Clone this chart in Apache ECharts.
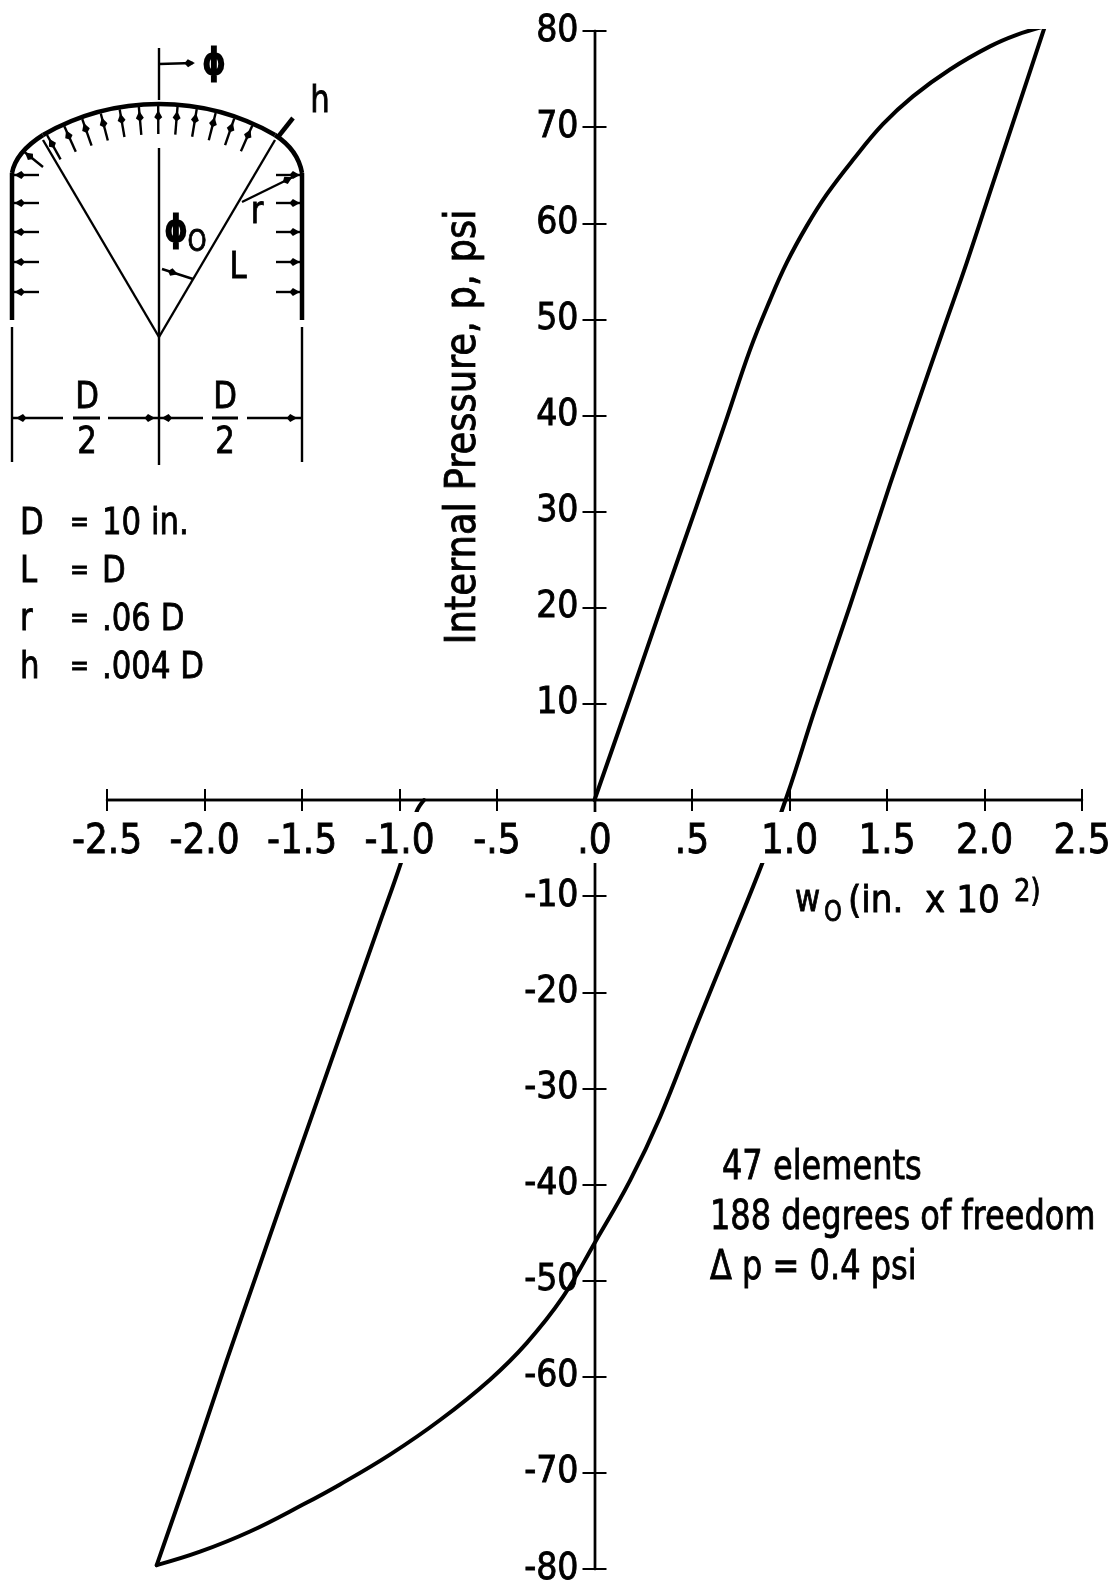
<!DOCTYPE html>
<html lang="en">
<head>
    <meta charset="UTF-8">
    <title>Internal Pressure vs. w0</title>
    <script src="https://cdn.jsdelivr.net/npm/echarts@6/dist/echarts.min.js"></script>
    <style>
        html, body { margin: 0; padding: 0; background: #ffffff; }
        #main { width: 1120px; height: 1591px; }
    </style>
</head>
<body>
<div id="main"></div>
<script type="text/javascript">
    // [w0, p]
    var risingBranch = [
        [0, 0], [0.182, 10.6], [0.336, 19.7], [0.524, 30.6], [0.680, 39.8], [0.797, 46.8],
        [0.900, 52.0], [0.986, 55.9], [1.088, 59.7], [1.191, 63.0], [1.326, 66.6], [1.479, 70.3],
        [1.633, 73.2], [1.823, 76.0], [2.028, 78.4], [2.165, 79.6], [2.310, 80.5]
    ];
    var fallingBranch = [
        [2.310, 80.5], [2.191, 73.2], [2.044, 64.2], [1.909, 55.9], [1.790, 49.0], [1.633, 39.8],
        [1.515, 32.8], [1.310, 20.2], [1.130, 9.4], [0.990, 0.6], [0.860, -6.6], [0.695, -14.9],
        [0.524, -23.4], [0.336, -33.0], [0.182, -39.6], [0.003, -46.0], [-0.162, -51.7],
        [-0.348, -56.5], [-0.536, -60.3], [-0.792, -64.5], [-1.049, -68.1], [-1.305, -71.2],
        [-1.495, -73.3], [-1.767, -76.1], [-2.023, -78.2], [-2.245, -79.6]
    ];
    var returnBranch = [
        [-2.245, -79.6], [-2.033, -67.2], [-1.886, -58.3], [-1.732, -49.3], [-1.597, -41.4],
        [-1.110, -13.3], [-0.987, -6.2], [-0.912, -1.2], [-0.874, 0]
    ];
    var xTickLabels = {'-2.5': '-2.5', '-2': '-2.0', '-1.5': '-1.5', '-1': '-1.0', '-0.5': '-.5',
        '0': '.0', '0.5': '.5', '1': '1.0', '1.5': '1.5', '2': '2.0', '2.5': '2.5'};
    var paramNames = ['D', 'L', 'r', 'h'];
    var paramValues = ['10 in.', 'D', '.06 D', '.004 D'];
    var noteLines = ['47 elements', '188 degrees of freedom', '\u0394 p = 0.4 psi'];

    var FONT = "'DejaVu Sans Condensed','Liberation Sans','Noto Sans',sans-serif";
    var INK = '#000000';
    var BOLDEN = 0.8;   // scanned type is heavier than the font

    // drawing helpers for the texts and the shell sketch
    function txt(str, x, y, size, align, rotation, squeeze, heavy) {
        return {
            type: 'text', x: x, y: y, rotation: rotation || 0, scaleX: squeeze || 0.9, z: 20,
            style: {text: str, fontSize: size, fontFamily: FONT, fill: INK, stroke: INK, lineWidth: heavy || BOLDEN,
                textAlign: align || 'left', textVerticalAlign: 'middle'}
        };
    }
    function seg(x1, y1, x2, y2, w) {
        return {type: 'line', z: 20, shape: {x1: x1, y1: y1, x2: x2, y2: y2}, style: {stroke: INK, lineWidth: w || 2.4}};
    }
    function head(x, y, ang, len, wid) {
        var c = Math.cos(ang), s = Math.sin(ang);
        return {type: 'polygon', z: 20, shape: {points: [
            [x + c * len, y + s * len],
            [x - s * wid, y + c * wid],
            [x - c * len * 0.5, y - s * len * 0.5],
            [x + s * wid, y - c * wid]
        ]}, style: {fill: INK}};
    }
    function arrow(x1, y1, x2, y2, t, w) {
        var ang = Math.atan2(y2 - y1, x2 - x1);
        return [seg(x1, y1, x2, y2, w || 2.4), head(x1 + (x2 - x1) * t, y1 + (y2 - y1) * t, ang, 7, 4)];
    }
    function knuckle(x1, y1, qx, qy, x2, y2) {
        return {type: 'bezierCurve', z: 20, shape: {x1: x1, y1: y1, cpx1: qx, cpy1: qy, x2: x2, y2: y2},
            style: {fill: null, stroke: INK, lineWidth: 4.5}};
    }

    var sketch = [];
    var cx = 159, cy = 337, R = 233;
    // shell wall
    var domeEdge = Math.asin(116 / R);
    sketch.push(seg(12, 173, 12, 320, 4.5), seg(302, 173, 302, 320, 4.5));
    sketch.push(knuckle(12, 173, 16, 152, 43, 135), knuckle(275, 135, 298, 150, 302, 173));
    sketch.push({
        type: 'arc', z: 20,
        shape: {cx: cx, cy: cy, r: R, startAngle: -Math.PI / 2 - domeEdge, endAngle: -Math.PI / 2 + domeEdge, clockwise: true},
        style: {fill: null, stroke: INK, lineWidth: 4.5}
    });
    // cone lines and centre line
    sketch.push(seg(cx, cy, 43, 140, 2.4), seg(cx, cy, 275, 140, 2.4));
    sketch.push(seg(cx, 48, cx, 100, 2.4), seg(cx, 148, cx, 465, 2.4));
    // phi marker
    sketch = sketch.concat(arrow(cx, 64, 193, 63, 0.85));
    sketch.push(txt('\u03d5', 214, 65, 36, 'center', 0, 1, 3));
    // pressure arrows on the crown
    for (var deg = -29; deg <= 24; deg += 4.8) {
        var a = deg * Math.PI / 180;
        sketch = sketch.concat(arrow(cx + Math.sin(a) * (R - 30), cy - Math.cos(a) * (R - 30), cx + Math.sin(a) * (R - 2), cy - Math.cos(a) * (R - 2), 0.6));
    }
    sketch = sketch.concat(arrow(43, 167, 22, 150, 0.6));
    // pressure arrows on the cylinder
    [175, 203, 232, 262, 292].forEach(function (y) {
        sketch = sketch.concat(arrow(39, y, 12, y, 0.65));
        sketch = sketch.concat(arrow(276, y, 302, y, 0.65));
    });
    // h, r, L, phi0
    sketch.push(seg(293, 118, 278, 137, 4.5), txt('h', 320, 102, 38, 'center'));
    sketch = sketch.concat(arrow(242, 202, 297, 175, 0.8));
    sketch.push(txt('r', 257, 213, 38, 'center'), txt('L', 238, 268, 38, 'center'));
    sketch.push(txt('\u03d5', 176, 232, 36, 'center', 0, 1, 3), txt('O', 197, 243, 30, 'center'));
    sketch = sketch.concat(arrow(162, 269, 193, 279, 0.3));
    // dimension lines
    sketch.push(seg(12, 327, 12, 462), seg(302, 327, 302, 462));
    sketch = sketch.concat(arrow(63, 418, 13, 418, 0.8), arrow(108, 418, 158, 418, 0.8));
    sketch = sketch.concat(arrow(203, 418, 160, 418, 0.8), arrow(247, 418, 301, 418, 0.8));
    sketch.push(seg(73, 418, 100, 418, 3), seg(212, 418, 238, 418, 3));
    sketch.push(txt('D', 87, 398, 38, 'center'), txt('2', 87, 443, 38, 'center'));
    sketch.push(txt('D', 225, 398, 38, 'center'), txt('2', 225, 443, 38, 'center'));

    var texts = [];
    paramNames.forEach(function (name, i) {
        var y = 524 + i * 48;
        texts.push(txt(name, 20, y, 38), txt('=', 70, y, 28), txt(paramValues[i], 102, y, 38));
    });
    texts.push(txt(noteLines[0], 722, 1169, 40, 'left', 0, 0.89), txt(noteLines[1], 710, 1219, 40, 'left', 0, 0.89), txt(noteLines[2], 710, 1269, 40, 'left', 0, 0.89));
    texts.push(txt('Internal Pressure, p, psi', 464, 427, 43, 'center', Math.PI / 2, 0.955));
    texts.push(txt('w', 795, 901, 38), txt('O', 824, 914, 28), txt('(in.  x 10', 848, 902, 38, 'left', 0, 1), txt('2)', 1014, 893, 32));

    function lineSeries(data) {
        return {
            type: 'line', data: data, xAxisIndex: 0, yAxisIndex: 0, z: 2,
            smooth: 0.4, showSymbol: false, animation: false, silent: true,
            lineStyle: {color: INK, width: 4, cap: 'round', join: 'round'}
        };
    }
    // the labels stay on the grid edge, so the margins carry them back to the zero lines
    function xAxisOpt(inside, showLabel) {
        return {
            type: 'value', min: -2.5, max: 2.5, interval: 0.5, position: 'bottom', z: 10,
            splitLine: {show: false},
            axisLine: {show: true, onZero: true, lineStyle: {color: INK, width: 2.4}},
            axisTick: {show: true, inside: inside, length: 11, lineStyle: {color: INK, width: 2}},
            axisLabel: {
                show: showLabel, margin: 12 - 769, color: INK, fontFamily: FONT, fontSize: 40, lineHeight: 40,
                textBorderColor: INK, textBorderWidth: BOLDEN,
                backgroundColor: '#ffffff', padding: [11, 3, 0, 3], hideOverlap: false, showMinLabel: true, showMaxLabel: true,
                formatter: function (v) { return xTickLabels[String(v)]; }
            }
        };
    }
    function yAxisOpt(inside, showLabel) {
        return {
            type: 'value', min: -80, max: 80, interval: 10, position: 'left', z: 1,
            splitLine: {show: false},
            axisLine: {show: true, onZero: true, lineStyle: {color: INK, width: 2.4}},
            axisTick: {show: true, inside: inside, length: 12, lineStyle: {color: INK, width: 2}},
            axisLabel: {
                show: showLabel, margin: 16 - 487.5, color: INK, fontFamily: FONT, fontSize: 37,
                textBorderColor: INK, textBorderWidth: BOLDEN,
                hideOverlap: false, showMinLabel: true, showMaxLabel: true,
                formatter: function (v) { return v === 0 ? '' : String(v); }
            }
        };
    }

    var chart = echarts.init(document.getElementById('main'), null, {renderer: 'canvas'});
    chart.setOption({
        backgroundColor: '#ffffff',
        animation: false,
        grid: {left: 107, width: 975, top: 31, height: 1538, containLabel: false, outerBoundsMode: 'none'},
        xAxis: [xAxisOpt(false, true), xAxisOpt(true, false)],
        yAxis: [yAxisOpt(false, true), yAxisOpt(true, false)],
        series: [
            lineSeries(risingBranch),
            lineSeries(fallingBranch),
            lineSeries(returnBranch),
            {type: 'line', data: [], xAxisIndex: 1, yAxisIndex: 1}
        ],
        graphic: {elements: sketch.concat(texts)}
    });
</script>
</body>
</html>
